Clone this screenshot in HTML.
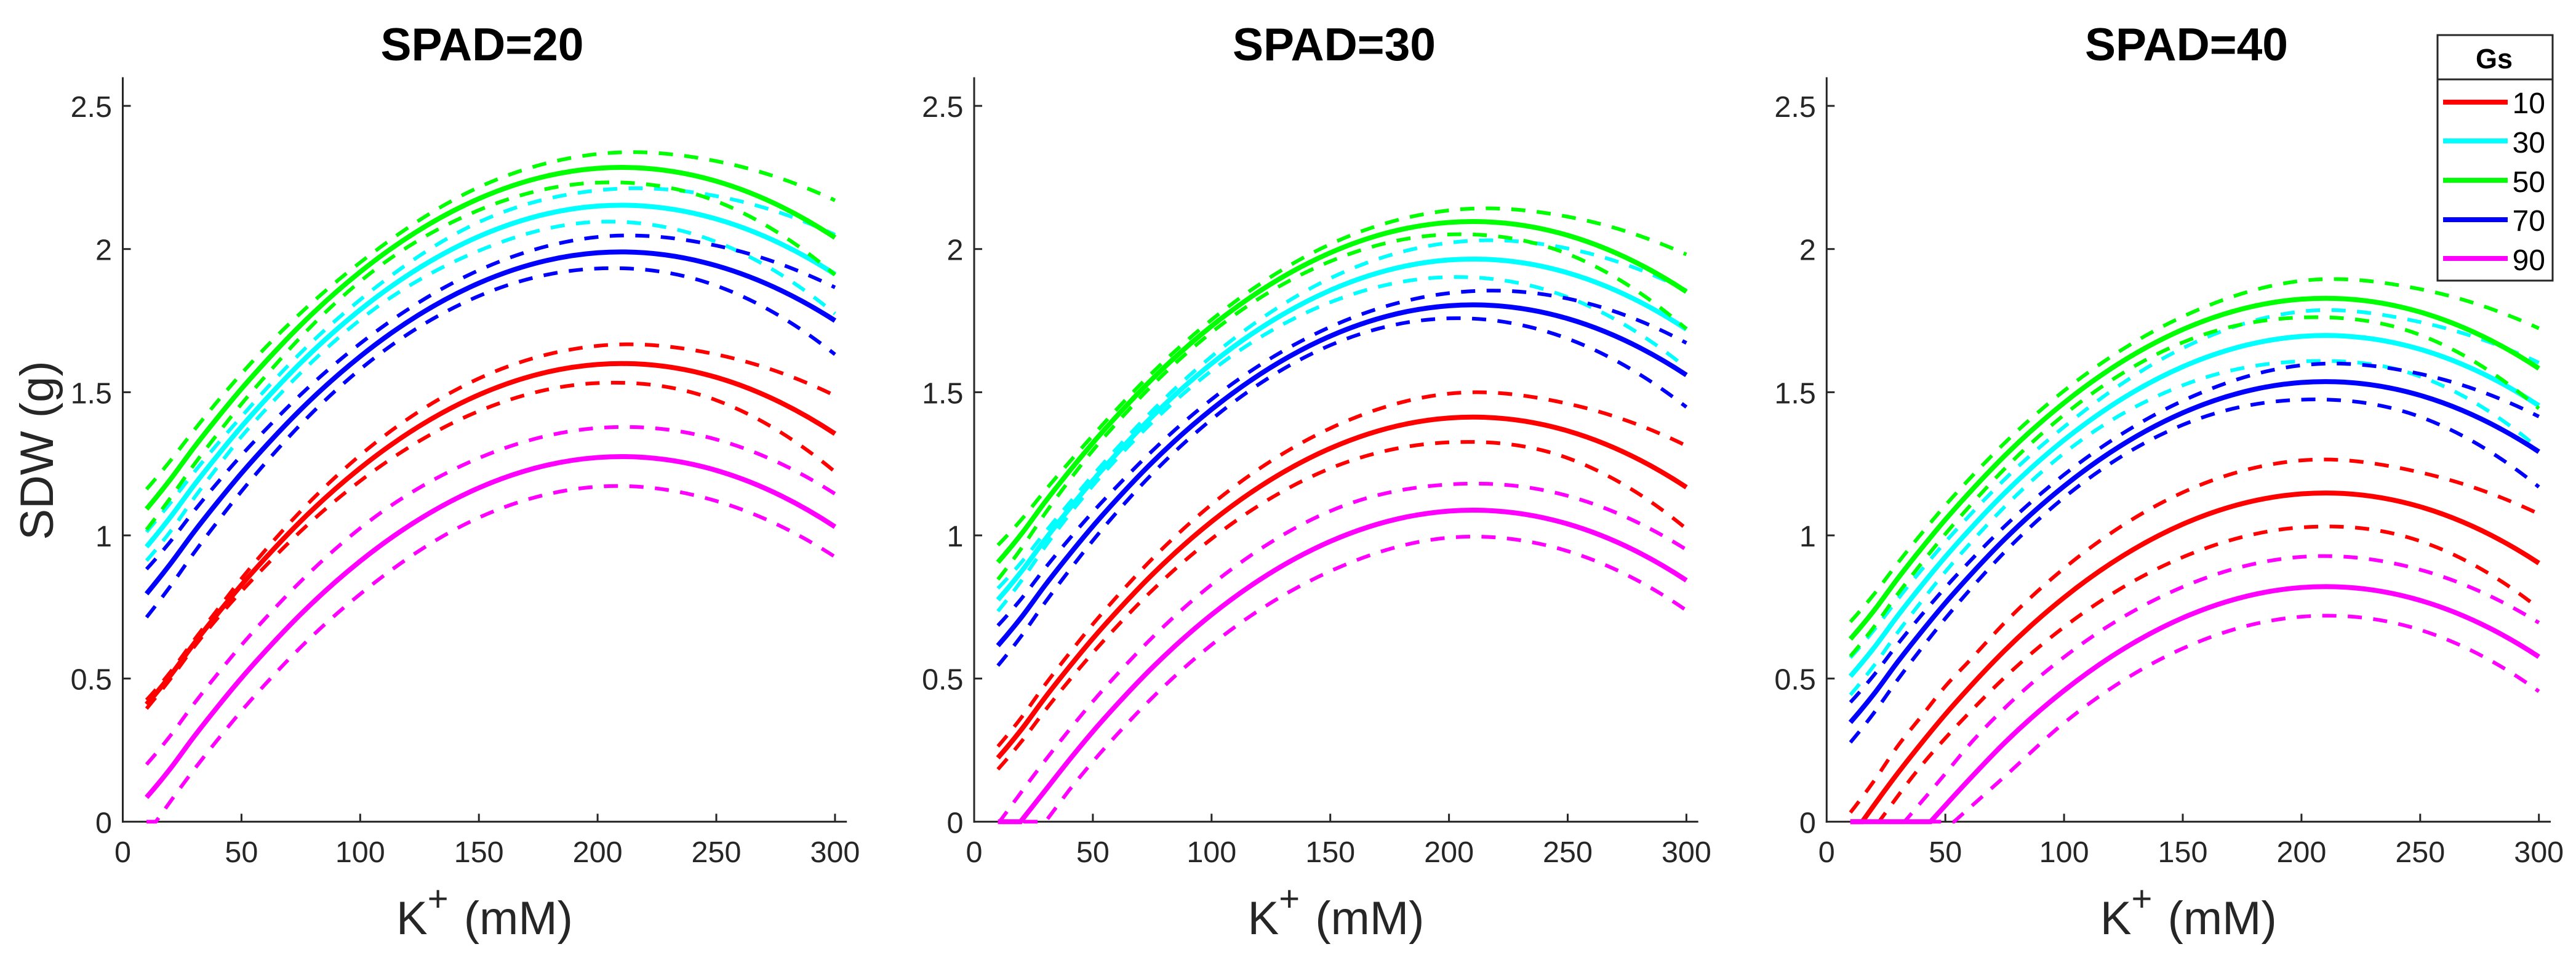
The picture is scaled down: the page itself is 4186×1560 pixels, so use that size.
<!DOCTYPE html>
<html lang="en">
<head>
<meta charset="utf-8">
<title>SDW vs K+ at SPAD 20, 30, 40</title>
<style>
  html, body { margin: 0; padding: 0; background: #fff; }
  svg { display: block; font-family: "Liberation Sans", Arial, sans-serif; }
</style>
</head>
<body>
<svg id="figure" xmlns="http://www.w3.org/2000/svg" width="4186" height="1560" viewBox="0 0 4186 1560">
  <rect x="0" y="0" width="4186" height="1560" fill="#fff"/>
  <g id="panels"></g>
  <g>
    <rect x="3961" y="57" width="187" height="399" fill="#fff" stroke="#262626" stroke-width="3"/>
    <line x1="3961" y1="129" x2="4148" y2="129" stroke="#262626" stroke-width="3"/>
    <text x="4053" y="111" font-size="45" font-weight="700" text-anchor="middle" fill="#000">Gs</text>
    <g>
      <line x1="3970" y1="166" x2="4075" y2="166" stroke="#ff0000" stroke-width="8"/>
      <text x="4136" y="184" font-size="48" text-anchor="end" fill="#000">10</text>
    </g>
    <g>
      <line x1="3970" y1="229" x2="4075" y2="229" stroke="#00ffff" stroke-width="8"/>
      <text x="4136" y="248" font-size="48" text-anchor="end" fill="#000">30</text>
    </g>
    <g>
      <line x1="3970" y1="293" x2="4075" y2="293" stroke="#00ff00" stroke-width="8"/>
      <text x="4136" y="312" font-size="48" text-anchor="end" fill="#000">50</text>
    </g>
    <g>
      <line x1="3970" y1="357" x2="4075" y2="357" stroke="#0000ff" stroke-width="8"/>
      <text x="4136" y="375" font-size="48" text-anchor="end" fill="#000">70</text>
    </g>
    <g>
      <line x1="3970" y1="420" x2="4075" y2="420" stroke="#ff00ff" stroke-width="8"/>
      <text x="4136" y="439" font-size="48" text-anchor="end" fill="#000">90</text>
    </g>
  </g>
</svg>
<script>
// Shared categories and tick labels
const kSamples = [10, 20, 30, 40, 50, 60, 75, 100, 150, 200, 250, 300];
const xTickValues = [0, 50, 100, 150, 200, 250, 300];
const xTickLabels = ["0", "50", "100", "150", "200", "250", "300"];
const yTickValues = [0, 0.5, 1, 1.5, 2, 2.5];
const yTickLabels = ["0", "0.5", "1", "1.5", "2", "2.5"];
const spadTitles = ["SPAD=20", "SPAD=30", "SPAD=40"];
const gsLevels = ["10", "30", "50", "70", "90"];
const gsColors = ["#ff0000", "#00ffff", "#00ff00", "#0000ff", "#ff00ff"];

// SPAD = 20
const s20g10mean = [0.41, 0.51, 0.622, 0.727, 0.827, 0.92, 1.05, 1.235, 1.491, 1.597, 1.552, 1.355];
const s20g10up = [0.425, 0.522, 0.634, 0.742, 0.849, 0.948, 1.085, 1.28, 1.548, 1.662, 1.632, 1.488];
const s20g10lo = [0.395, 0.498, 0.61, 0.712, 0.805, 0.892, 1.015, 1.19, 1.434, 1.532, 1.472, 1.222];
const s20g30mean = [0.96, 1.063, 1.175, 1.28, 1.38, 1.473, 1.603, 1.788, 2.044, 2.15, 2.105, 1.912];
const s20g30up = [1.012, 1.113, 1.22, 1.32, 1.415, 1.508, 1.638, 1.823, 2.094, 2.205, 2.185, 2.05];
const s20g30lo = [0.912, 1.013, 1.13, 1.24, 1.345, 1.438, 1.568, 1.753, 1.994, 2.095, 2.025, 1.774];
const s20g50mean = [1.092, 1.195, 1.307, 1.412, 1.512, 1.605, 1.735, 1.92, 2.176, 2.282, 2.237, 2.04];
const s20g50up = [1.161, 1.26, 1.367, 1.469, 1.565, 1.655, 1.777, 1.953, 2.216, 2.332, 2.307, 2.17];
const s20g50lo = [1.02, 1.13, 1.247, 1.355, 1.459, 1.555, 1.693, 1.887, 2.136, 2.232, 2.167, 1.91];
const s20g70mean = [0.796, 0.9, 1.012, 1.117, 1.217, 1.31, 1.44, 1.625, 1.881, 1.987, 1.942, 1.75];
const s20g70up = [0.882, 0.978, 1.085, 1.185, 1.28, 1.368, 1.492, 1.67, 1.926, 2.042, 2.012, 1.866];
const s20g70lo = [0.714, 0.822, 0.939, 1.049, 1.154, 1.252, 1.388, 1.58, 1.836, 1.932, 1.872, 1.632];
const s20g90mean = [0.085, 0.185, 0.297, 0.402, 0.502, 0.595, 0.725, 0.91, 1.166, 1.272, 1.227, 1.03];
const s20g90up = [0.2, 0.3, 0.412, 0.517, 0.617, 0.71, 0.84, 1.025, 1.27, 1.375, 1.335, 1.145];
const s20g90lo = [0, 0.07, 0.182, 0.287, 0.387, 0.48, 0.61, 0.795, 1.062, 1.17, 1.12, 0.925];

// SPAD = 30
const s30g10mean = [0.223, 0.323, 0.435, 0.54, 0.64, 0.733, 0.863, 1.048, 1.304, 1.41, 1.365, 1.168];
const s30g10up = [0.263, 0.365, 0.48, 0.587, 0.69, 0.785, 0.918, 1.108, 1.374, 1.495, 1.46, 1.313];
const s30g10lo = [0.183, 0.281, 0.39, 0.493, 0.59, 0.681, 0.808, 0.988, 1.234, 1.325, 1.27, 1.023];
const s30g30mean = [0.775, 0.875, 0.987, 1.092, 1.192, 1.285, 1.415, 1.6, 1.856, 1.962, 1.917, 1.72];
const s30g30up = [0.815, 0.907, 1.012, 1.112, 1.21, 1.303, 1.435, 1.625, 1.898, 2.022, 2.002, 1.855];
const s30g30lo = [0.735, 0.843, 0.962, 1.072, 1.174, 1.267, 1.395, 1.575, 1.814, 1.902, 1.832, 1.585];
const s30g50mean = [0.906, 1.006, 1.118, 1.223, 1.323, 1.416, 1.546, 1.731, 1.987, 2.093, 2.048, 1.851];
const s30g50up = [0.966, 1.056, 1.158, 1.255, 1.349, 1.44, 1.568, 1.753, 2.017, 2.135, 2.113, 1.981];
const s30g50lo = [0.846, 0.956, 1.078, 1.191, 1.297, 1.392, 1.524, 1.709, 1.957, 2.051, 1.983, 1.721];
const s30g70mean = [0.615, 0.715, 0.827, 0.932, 1.032, 1.125, 1.255, 1.44, 1.696, 1.802, 1.757, 1.56];
const s30g70up = [0.685, 0.78, 0.887, 0.987, 1.082, 1.17, 1.295, 1.475, 1.728, 1.846, 1.827, 1.672];
const s30g70lo = [0.545, 0.65, 0.767, 0.877, 0.982, 1.08, 1.215, 1.405, 1.664, 1.758, 1.687, 1.448];
const s30g90mean = [0, 0.005, 0.11, 0.215, 0.315, 0.408, 0.538, 0.723, 0.979, 1.085, 1.04, 0.843];
const s30g90up = [0, 0.105, 0.215, 0.32, 0.42, 0.513, 0.643, 0.828, 1.085, 1.178, 1.138, 0.95];
const s30g90lo = [0, 0, 0, 0.11, 0.21, 0.303, 0.433, 0.618, 0.875, 0.992, 0.945, 0.738];

// SPAD = 40
const s40g10mean = [0, 0.058, 0.17, 0.275, 0.375, 0.468, 0.598, 0.783, 1.039, 1.145, 1.1, 0.903];
const s40g10up = [0.032, 0.143, 0.265, 0.369, 0.473, 0.561, 0.695, 0.885, 1.15, 1.262, 1.22, 1.075];
const s40g10lo = [0, 0, 0.09, 0.197, 0.292, 0.38, 0.504, 0.68, 0.924, 1.028, 0.98, 0.745];
const s40g30mean = [0.508, 0.608, 0.72, 0.825, 0.925, 1.018, 1.148, 1.333, 1.589, 1.695, 1.65, 1.453];
const s40g30up = [0.573, 0.67, 0.778, 0.88, 0.977, 1.068, 1.196, 1.379, 1.654, 1.782, 1.745, 1.603];
const s40g30lo = [0.443, 0.546, 0.662, 0.77, 0.873, 0.968, 1.1, 1.287, 1.524, 1.608, 1.555, 1.303];
const s40g50mean = [0.638, 0.738, 0.85, 0.955, 1.055, 1.148, 1.278, 1.463, 1.719, 1.825, 1.78, 1.583];
const s40g50up = [0.698, 0.795, 0.904, 1.007, 1.105, 1.196, 1.323, 1.505, 1.764, 1.889, 1.86, 1.723];
const s40g50lo = [0.578, 0.681, 0.796, 0.903, 1.005, 1.1, 1.233, 1.421, 1.674, 1.761, 1.7, 1.443];
const s40g70mean = [0.347, 0.447, 0.559, 0.664, 0.764, 0.857, 0.987, 1.172, 1.428, 1.534, 1.489, 1.292];
const s40g70up = [0.417, 0.513, 0.621, 0.722, 0.818, 0.907, 1.032, 1.212, 1.47, 1.594, 1.564, 1.415];
const s40g70lo = [0.277, 0.381, 0.497, 0.606, 0.71, 0.807, 0.942, 1.132, 1.386, 1.474, 1.414, 1.169];
const s40g90mean = [0, 0, 0, 0, 0.057, 0.147, 0.276, 0.458, 0.712, 0.818, 0.773, 0.576];
const s40g90up = [0, 0, 0, 0.07, 0.168, 0.268, 0.397, 0.575, 0.82, 0.925, 0.88, 0.695];
const s40g90lo = [0, 0, 0, 0, 0, 0.047, 0.158, 0.345, 0.605, 0.716, 0.67, 0.455];

const panelSeries = [
  [[s20g10mean, s20g10up, s20g10lo], [s20g30mean, s20g30up, s20g30lo], [s20g50mean, s20g50up, s20g50lo], [s20g70mean, s20g70up, s20g70lo], [s20g90mean, s20g90up, s20g90lo]],
  [[s30g10mean, s30g10up, s30g10lo], [s30g30mean, s30g30up, s30g30lo], [s30g50mean, s30g50up, s30g50lo], [s30g70mean, s30g70up, s30g70lo], [s30g90mean, s30g90up, s30g90lo]],
  [[s40g10mean, s40g10up, s40g10lo], [s40g30mean, s40g30up, s40g30lo], [s40g50mean, s40g50up, s40g50lo], [s40g70mean, s40g70up, s40g70lo], [s40g90mean, s40g90up, s40g90lo]]
];

const SVG_NS = "http://www.w3.org/2000/svg";
const INK = "#262626";
const panelLeft = [199.5, 1583, 2968.3];
const xPerUnit = 3.858;
const yZero = 1335.3;
const yPerUnit = 465.3;
const yMax = 2.6;
const xMax = 305;

function xScale(panel, k) { return panelLeft[panel] + k * xPerUnit; }
function yScale(v) { return yZero - v * yPerUnit; }

function make(tag, attrs, parent) {
  const el = document.createElementNS(SVG_NS, tag);
  for (const key in attrs) el.setAttribute(key, attrs[key]);
  parent.appendChild(el);
  return el;
}

function pt(panel, k, v) {
  return xScale(panel, k).toFixed(2) + " " + yScale(v).toFixed(2);
}

function curvePath(panel, xs, ys) {
  const n = xs.length;
  const m = new Array(n).fill(0);
  for (let i = 1; i < n - 1; i++) {
    const h0 = xs[i] - xs[i - 1], h1 = xs[i + 1] - xs[i];
    const s0 = (ys[i] - ys[i - 1]) / h0, s1 = (ys[i + 1] - ys[i]) / h1;
    if (ys[i] === 0) {
      m[i] = 0;
    } else if (ys[i - 1] === 0 && i + 2 < n) {
      // first value after the curve leaves zero: use a one-sided slope so the corner stays sharp
      const h2 = xs[i + 2] - xs[i + 1];
      const s2 = (ys[i + 2] - ys[i + 1]) / h2;
      m[i] = s1 + (s1 - s2) * h1 / (h1 + h2);
    } else {
      m[i] = (s1 * h0 + s0 * h1) / (h0 + h1);
    }
  }
  m[0] = ys[0] === 0 ? 0 : 2 * (ys[1] - ys[0]) / (xs[1] - xs[0]) - m[1];
  m[n - 1] = 2 * (ys[n - 1] - ys[n - 2]) / (xs[n - 1] - xs[n - 2]) - m[n - 2];
  let d = "M" + pt(panel, xs[0], ys[0]);
  for (let i = 0; i < n - 1; i++) {
    const h = xs[i + 1] - xs[i];
    if (ys[i] === 0 && ys[i + 1] === 0) {
      d += "L" + pt(panel, xs[i + 1], 0);
    } else if (ys[i] === 0) {
      const corner = Math.max(xs[i], xs[i + 1] - ys[i + 1] / m[i + 1]);
      d += "L" + pt(panel, corner, 0) + "L" + pt(panel, xs[i + 1], ys[i + 1]);
    } else {
      d += "C" + pt(panel, xs[i] + h / 3, ys[i] + m[i] * h / 3) +
           " " + pt(panel, xs[i + 1] - h / 3, ys[i + 1] - m[i + 1] * h / 3) +
           " " + pt(panel, xs[i + 1], ys[i + 1]);
    }
  }
  return d;
}

const panelsRoot = document.getElementById("panels");

panelSeries.forEach(function (series, p) {
  const group = make("g", {}, panelsRoot);
  
  

  const axisStyle = { stroke: INK, "stroke-width": 3, fill: "none" };

  const yAxis = make("line", Object.assign({ x1: panelLeft[p], x2: panelLeft[p], y1: yScale(yMax), y2: yZero + 1.5 }, axisStyle), group);
  
  

  const xAxis = make("line", Object.assign({ x1: panelLeft[p] - 1.5, x2: xScale(p, xMax), y1: yZero, y2: yZero }, axisStyle), group);
  
  

  xTickValues.forEach(function (value, i) {
    if (value !== 0) {
      const tick = make("line", Object.assign({ x1: xScale(p, value), x2: xScale(p, value), y1: yZero, y2: yZero - 13 }, axisStyle), group);
      
      
    }
    const label = make("text", { x: xScale(p, value), y: 1401, "font-size": 48.5, "text-anchor": "middle", fill: INK }, group);
    label.textContent = xTickLabels[i];
    
    
  });

  yTickValues.forEach(function (value, i) {
    if (value !== 0) {
      const tick = make("line", Object.assign({ x1: panelLeft[p], x2: panelLeft[p] + 13, y1: yScale(value), y2: yScale(value) }, axisStyle), group);
      
      
    }
    const label = make("text", { x: panelLeft[p] - 17.5, y: yScale(value) + 18, "font-size": 48.5, "text-anchor": "end", fill: INK }, group);
    label.textContent = yTickLabels[i];
    
    
  });

  series.forEach(function (lines, s) {
    const seriesGroup = make("g", { fill: "none", stroke: gsColors[s] }, group);
    
    

    const mean = make("path", { d: curvePath(p, kSamples, lines[0]), "stroke-width": 8 }, seriesGroup);
    
    

    const upper = make("path", { d: curvePath(p, kSamples, lines[1]), "stroke-width": 6, "stroke-dasharray": "23 18.5" }, seriesGroup);
    
    

    const lower = make("path", { d: curvePath(p, kSamples, lines[2]), "stroke-width": 6, "stroke-dasharray": "23 18.5" }, seriesGroup);
    
    
  });

  const titleCenter = [783.5, 2168, 3553][p];
  const title = make("text", { x: titleCenter, y: 98, "font-size": 75, "font-weight": 700, "text-anchor": "middle", fill: "#000" }, group);
  title.textContent = spadTitles[p];
  
  

  const xTitle = make("text", { x: panelLeft[p] + 588, y: 1518, "font-size": 76, "text-anchor": "middle", fill: INK }, group);
  
  
  const kPart = make("tspan", {}, xTitle);
  kPart.textContent = "K";
  const plusPart = make("tspan", { dy: -38, "font-size": 58 }, xTitle);
  plusPart.textContent = "+";
  const unitPart = make("tspan", { dy: 38, dx: 4 }, xTitle);
  unitPart.textContent = " (mM)";
});

const yTitle = make("text", { x: 0, y: 0, transform: "translate(86 732) rotate(-90)", "font-size": 76, "text-anchor": "middle", fill: INK }, panelsRoot);
yTitle.textContent = "SDW (g)";


</script>
</body>
</html>
